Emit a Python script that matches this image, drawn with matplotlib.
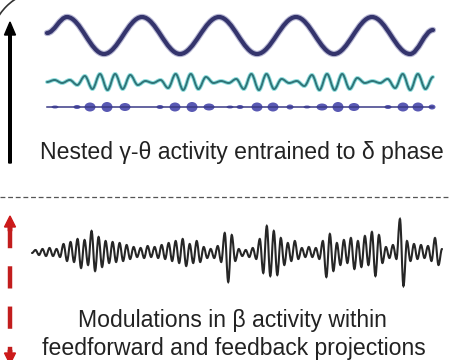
import numpy as np
import matplotlib
matplotlib.use("Agg")
import matplotlib.pyplot as plt
from matplotlib.path import Path
from matplotlib.patches import PathPatch, Ellipse, Arc

plt.rcParams['font.family'] = ['Liberation Sans', 'DejaVu Sans']
plt.rcParams['lines.scale_dashes'] = False

# delta wave: extrema (x in px, offset up from baseline in px)
delta_x = [47, 67, 104, 142, 180, 219, 257, 296, 334, 372, 410, 433]
delta_y = [2.5, 18.5, -18.5, 18.5, -18.5, 18.5, -18.5, 18.5, -18.5, 18.5, -18.5, 5.5]

# theta bursts: extrema offsets, evenly spaced between 47 and 433
theta_y = [0, 2, -1, 2, -3, 6, -7, 8, -8, 8, -7, 7, -3, 1, -1, 2,
           -6, 8, -8, 8, -7, 5, -1, 1, -1, 3, -7, 8, -8, 8, -7, 3,
           -1, 1, -4, 7, -8, 8, -8, 8, -7, 4, -1, 1, -1, 3, -6, 8,
           -8, 8, -7, 5]

# gamma bursts: centre x and height (px)
gamma_x = [55, 77, 90, 107, 125, 160, 175, 192, 209, 230, 240, 257, 273,
           290, 307, 322, 338, 354, 388, 403, 418, 432]
gamma_h = [3, 4, 9, 10, 8, 4, 9, 10, 7, 3, 4, 9, 9, 5, 3, 7, 10, 8, 4, 9, 9, 5]

# beta trace: extrema offsets, evenly spaced between 32 and 442
beta_y = [0, 3, -2, 4, -3, 5, -3, 4, -4, 9, -8, 11, -9, 14, -15, 13,
          -12, 22, -18, 16, -14, 12, -10, 11, -9, 10, -8, 8, -6, 6,
          -4, 5, -5, 7, -4, 6, -5, 8, -6, 10, -8, 12, -10, 14, -13, 9,
          -10, 12, -9, 6, -5, 4, -5, 7, -9, 20, -29, 18, -8, 4, -3, 3,
          -4, 5, -6, 14, -20, 27, -23, 22, -22, 15, -12, 10, -8, 12,
          -6, 5, -4, 6, -4, 5, -6, 12, -24, 19, -18, 10, -12, 13, -10,
          15, -16, 12, -14, 17, -12, 21, -23, 18, -10, 6, -5, 8, -6,
          34, -33, 12, -8, 9, -6, 8, -5, 7, -8, 15, -12, 4]


def smooth_path(xs, ys):
    # cubic curves with flat tangents at each extremum
    verts = [(xs[0], ys[0])]
    codes = [Path.MOVETO]
    for i in range(1, len(xs)):
        d = (xs[i] - xs[i - 1]) * 0.36
        verts += [(xs[i - 1] + d, ys[i - 1]), (xs[i] - d, ys[i]), (xs[i], ys[i])]
        codes += [Path.CURVE4] * 3
    return Path(verts, codes)


fig = plt.figure(figsize=(4.49, 3.6), dpi=100)
ax = fig.add_axes([0, 0, 1, 1])
ax.set_xlim(0, 449)
ax.set_ylim(360, 0)
ax.axis('off')

# delta
dy = [35.5 - v for v in delta_y]
ax.add_patch(PathPatch(smooth_path(delta_x, dy), fill=False, lw=4.6, ec='#8a8ab8', alpha=0.6, capstyle='round'))
ax.add_patch(PathPatch(smooth_path(delta_x, dy), fill=False, lw=3.0, ec='#34346c', capstyle='round'))

# theta
tx = np.linspace(47, 433, len(theta_y))
ty = [82 - v for v in theta_y]
ax.add_patch(PathPatch(smooth_path(tx, ty), fill=False, lw=2.8, ec='#8fdede', capstyle='round'))
ax.add_patch(PathPatch(smooth_path(tx, ty), fill=False, lw=1.4, ec='#2f7478', capstyle='round'))

# gamma
ax.plot([47, 433], [107, 107], color='#3a3a86', lw=1.1)
for x, h in zip(gamma_x, gamma_h):
    ax.add_patch(Ellipse((x, 107), width=11 if h > 5 else 7, height=h, color='#3c3ca6', alpha=0.85, lw=0))

ax.text(242, 152, 'Nested γ-θ activity entrained to δ phase', ha='center', va='center',
        fontsize=16.6, color='#222222')

# black arrow and corner arc
ax.arrow(10, 163, 0, -141, width=2.6, head_width=11, head_length=13,
         length_includes_head=True, color='black')
ax.add_patch(Arc((46, 46), 112, 112, theta1=205, theta2=245, color='#333333', lw=1.2))

# separator
ax.plot([0, 449], [197, 197], color='#555555', lw=0.9, dashes=(3.5, 2))

# beta
bx = np.linspace(32, 442, len(beta_y))
by = [253 - v for v in beta_y]
ax.add_patch(PathPatch(smooth_path(bx, by), fill=False, lw=1.5, ec='#262626', capstyle='round'))

# red dashed double arrow
ax.plot([10, 10], [226, 352], color='#c21d1d', lw=3.2, dashes=(16, 13))
ax.arrow(10, 231, 0, -15, width=3.4, head_width=11, head_length=11,
         length_includes_head=True, color='#cc1a1a')
ax.arrow(10, 350, 0, 14, width=3.4, head_width=11, head_length=11,
         length_includes_head=True, color='#cc1a1a')

ax.text(232, 321, 'Modulations in β activity within', ha='center', va='center',
        fontsize=16.6, color='#222222')
ax.text(234, 348, 'feedforward and feedback projections', ha='center', va='center',
        fontsize=16.6, color='#222222')

fig.savefig('out.png', dpi=100)
